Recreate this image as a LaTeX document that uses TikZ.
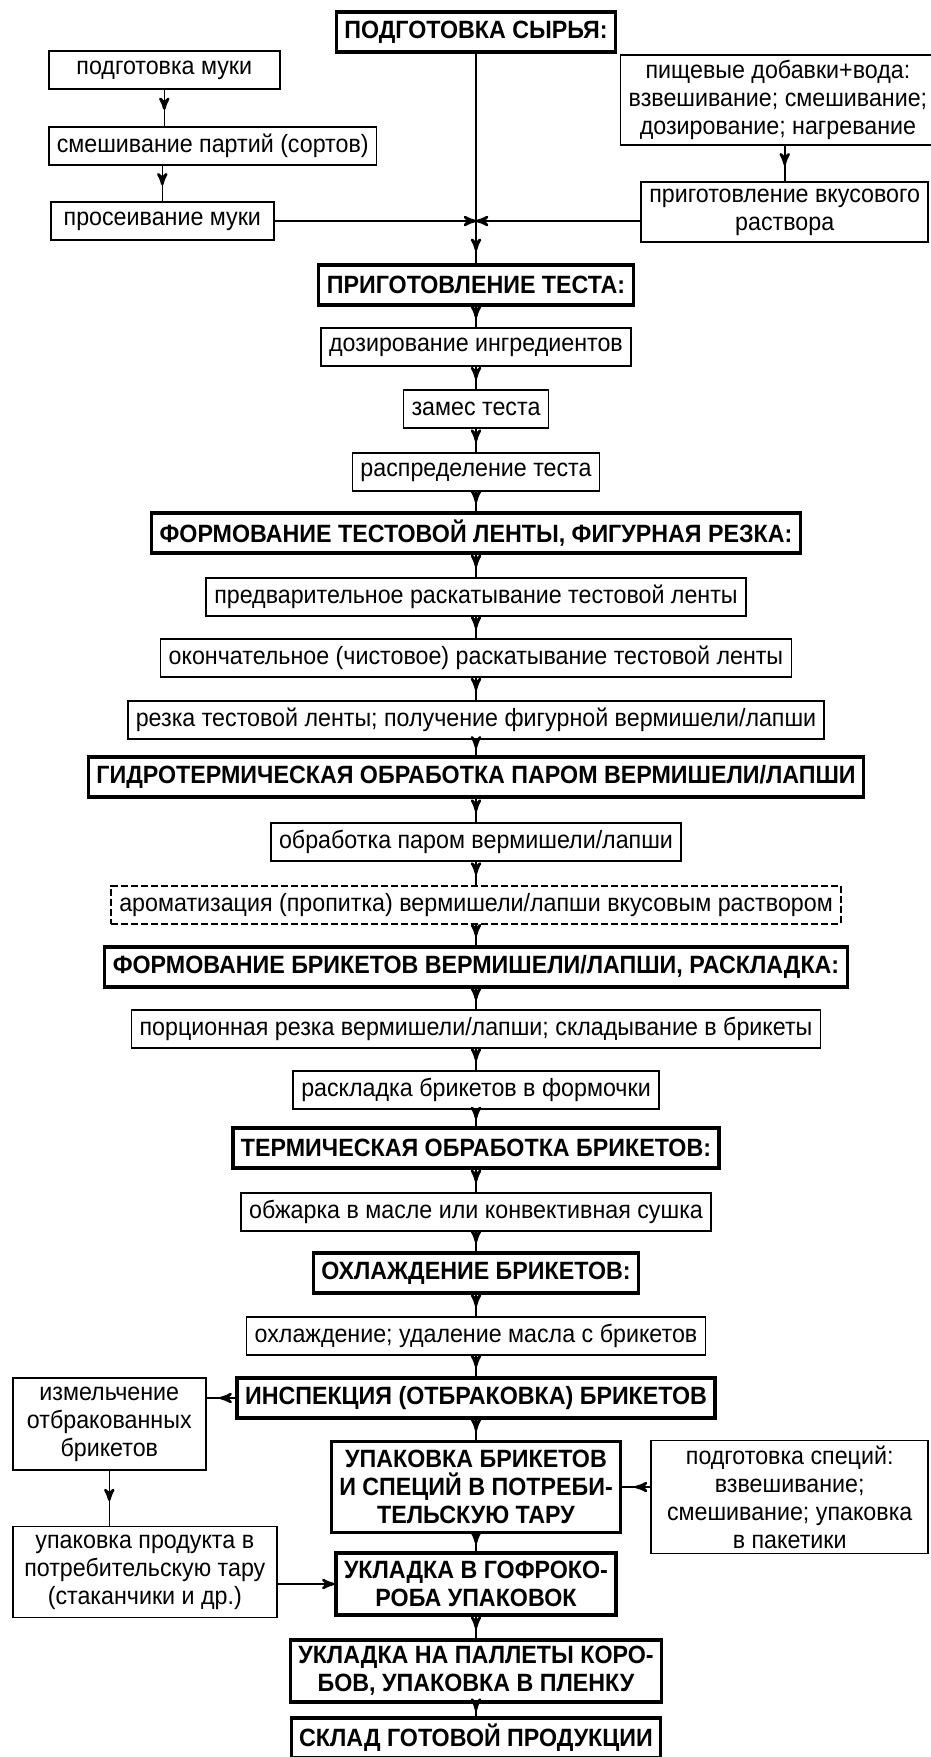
\documentclass[tikz,border=0pt]{standalone}
\usepackage{fontspec}
\setmainfont{Liberation Sans}[FakeStretch=0.93]
\usetikzlibrary{arrows,decorations.markings}
\newcommand{\procfont}{\fontsize{25}{28}\selectfont}

\begin{document}
\begin{tikzpicture}[>=stealth',x=1pt,y=-1pt,line width=1.6pt]
  \tikzstyle{oper}=[rectangle,draw=black,fill=white,line width=1.6pt,inner xsep=8pt,inner ysep=5pt,
                    minimum height=38pt,align=center,font=\procfont]
  \tikzstyle{stage}=[oper,line width=3.2pt,minimum height=40pt,font=\procfont\bfseries]
  \tikzstyle{maybe}=[oper,dash pattern=on 7pt off 3pt,line width=2pt]
  \tikzstyle{flow}=[postaction={decorate},decoration={markings,mark=at position 0.55 with {\arrow[scale=1.6]{stealth'}}}]
  \tikzstyle{longflow}=[postaction={decorate},decoration={markings,mark=at position 0.94 with {\arrow[scale=1.6]{stealth'}}}]
  \tikzstyle{flowend}=[postaction={decorate},decoration={markings,mark=at position 1 with {\arrow[scale=1.6]{stealth'}}}]

  \useasboundingbox (0,0) rectangle (931,1757);

  % raw materials
  \node[stage] (syr) at (476,32) {ПОДГОТОВКА СЫРЬЯ:};
  \node[oper,anchor=west,minimum width=231pt] (muka1) at (48,70) {подготовка муки};
  \node[oper,anchor=east,minimum height=90pt] (dob) at (936,100) {пищевые добавки+вода:\\взвешивание; смешивание;\\дозирование; нагревание};
  \node[oper,anchor=west] (muka2) at (48,146) {смешивание партий (сортов)};
  \node[oper,anchor=east,minimum width=287pt,minimum height=60pt] (rastvor) at (929,212) {приготовление вкусового\\раствора};
  \node[oper,anchor=west,minimum width=223pt] (muka3) at (50,221) {просеивание муки};

  % main line
  \node[stage] (testo) at (476,285) {ПРИГОТОВЛЕНИЕ ТЕСТА:};
  \node[oper] (doz) at (476,347) {дозирование ингредиентов};
  \node[oper] (zames) at (476,409) {замес теста};
  \node[oper] (raspr) at (476,472) {распределение теста};
  \node[stage] (lenta) at (476,533) {ФОРМОВАНИЕ ТЕСТОВОЙ ЛЕНТЫ, ФИГУРНАЯ РЕЗКА:};
  \node[oper] (rask1) at (476,597) {предварительное раскатывание тестовой ленты};
  \node[oper] (rask2) at (476,658) {окончательное (чистовое) раскатывание тестовой ленты};
  \node[oper] (rezka) at (476,720) {резка тестовой ленты; получение фигурной вермишели/лапши};
  \node[stage] (gidro) at (476,777) {ГИДРОТЕРМИЧЕСКАЯ ОБРАБОТКА ПАРОМ ВЕРМИШЕЛИ/ЛАПШИ};
  \node[oper] (par) at (476,842) {обработка паром вермишели/лапши};
  \node[maybe] (aroma) at (476,905) {ароматизация (пропитка) вермишели/лапши вкусовым раствором};
  \node[stage] (briket) at (476,967) {ФОРМОВАНИЕ БРИКЕТОВ ВЕРМИШЕЛИ/ЛАПШИ, РАСКЛАДКА:};
  \node[oper] (porc) at (476,1029) {порционная резка вермишели/лапши; складывание в брикеты};
  \node[oper] (forma) at (476,1090) {раскладка брикетов в формочки};
  \node[stage] (term) at (476,1148) {ТЕРМИЧЕСКАЯ ОБРАБОТКА БРИКЕТОВ:};
  \node[oper] (sushka) at (476,1212) {обжарка в масле или конвективная сушка};
  \node[stage] (ohl) at (476,1273) {ОХЛАЖДЕНИЕ БРИКЕТОВ:};
  \node[oper] (maslo) at (476,1336) {охлаждение; удаление масла с брикетов};
  \node[stage] (insp) at (476,1398) {ИНСПЕКЦИЯ (ОТБРАКОВКА) БРИКЕТОВ};

  % packing
  \node[oper,anchor=west,minimum width=193pt,minimum height=92pt] (izm) at (12,1424) {измельчение\\отбракованных\\брикетов};
  \node[stage,minimum height=91pt] (upak) at (476,1487) {УПАКОВКА БРИКЕТОВ\\И СПЕЦИЙ В ПОТРЕБИ-\\ТЕЛЬСКУЮ ТАРУ};
  \node[oper,anchor=east,minimum width=277pt,minimum height=111pt] (spec) at (929,1497) {подготовка специй:\\взвешивание;\\смешивание; упаковка\\в пакетики};
  \node[oper,anchor=west,minimum width=264pt,minimum height=91pt] (prod) at (12,1572) {упаковка продукта в\\потребительскую тару\\(стаканчики и др.)};
  \node[stage,minimum height=62pt] (gofro) at (476,1584) {УКЛАДКА В ГОФРОКО-\\РОБА УПАКОВОК};
  \node[stage,minimum height=62pt] (palet) at (476,1671) {УКЛАДКА НА ПАЛЛЕТЫ КОРО-\\БОВ, УПАКОВКА В ПЛЕНКУ};
  \node[stage] (sklad) at (476,1738) {СКЛАД ГОТОВОЙ ПРОДУКЦИИ};

  \path (syr) edge[longflow] (testo)
        (muka1.south) edge[flow] (muka1.south |- muka2.north)
        (muka3.north |- muka2.south) edge[flow] (muka3.north)
        (rastvor.north |- dob.south) edge[flow] (rastvor.north)
        (muka3.east) edge[flowend] (muka3.east -| testo.north)
        (rastvor.west |- muka3.east) edge[flowend] (muka3.east -| testo.north)
        (testo) edge[flow] (doz)
        (doz) edge[flow] (zames)
        (zames) edge[flow] (raspr)
        (raspr) edge[flow] (lenta)
        (lenta) edge[flow] (rask1)
        (rask1) edge[flow] (rask2)
        (rask2) edge[flow] (rezka)
        (rezka) edge[flow] (gidro)
        (gidro) edge[flow] (par)
        (par) edge[flow] (aroma)
        (aroma) edge[flow] (briket)
        (briket) edge[flow] (porc)
        (porc) edge[flow] (forma)
        (forma) edge[flow] (term)
        (term) edge[flow] (sushka)
        (sushka) edge[flow] (ohl)
        (ohl) edge[flow] (maslo)
        (maslo) edge[flow] (insp)
        (insp.west) edge[flow] (insp.west -| izm.east)
        (izm.south) edge[flow] (izm.south |- prod.north)
        (insp) edge[flow] (upak)
        (spec.west |- upak.east) edge[flow] (upak.east)
        (upak) edge[flow] (gofro)
        (prod.east |- gofro.west) edge[flowend] (gofro.west)
        (gofro) edge[flow] (palet)
        (palet) edge[flow] (sklad);
\end{tikzpicture}
\end{document}
